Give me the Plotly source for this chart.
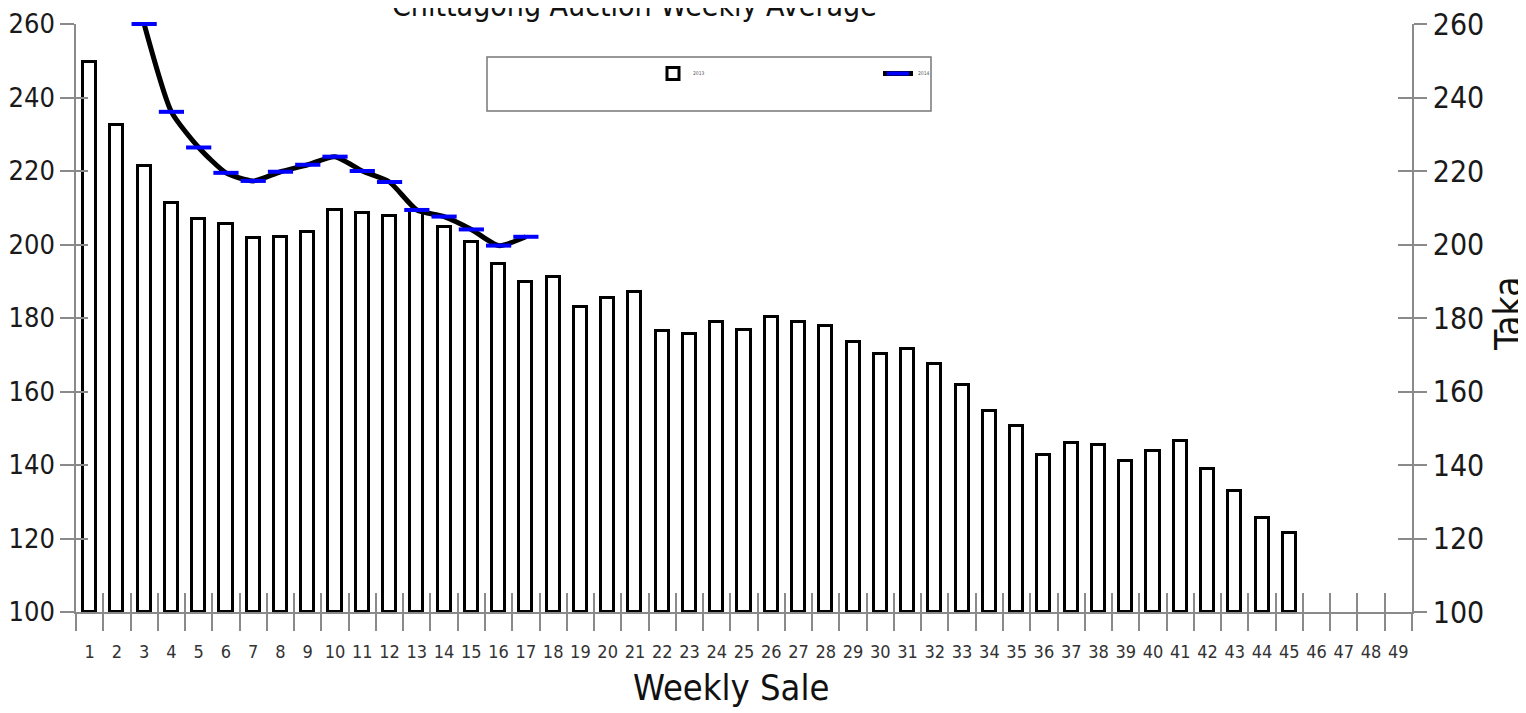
import plotly.graph_objects as go

# ---- data ----
weeks_all = list(range(1, 50))
tick_labels = [str(w) for w in weeks_all]

bar_weeks = list(range(1, 46))
bar_values = [249.7, 232.5, 221.4, 211.3, 206.9, 205.6, 201.8, 202.0, 203.4, 209.5,
              208.6, 207.8, 209.0, 204.8, 200.7, 194.7, 189.8, 191.2, 183.0, 185.4,
              187.1, 176.5, 175.6, 178.9, 176.7, 180.3, 178.9, 177.8, 173.5, 170.2,
              171.6, 167.5, 161.8, 154.7, 150.6, 142.7, 146.0, 145.4, 141.1, 143.8,
              146.5, 138.9, 132.9, 125.6, 121.5]

line_weeks = list(range(3, 18))
line_values = [260.0, 236.1, 226.4, 219.5, 217.3, 219.8, 221.7, 223.9, 220.0, 217.0,
               209.4, 207.6, 204.1, 199.7, 202.1]

y_ticks = [100, 120, 140, 160, 180, 200, 220, 240, 260]
series_names = ["2013", "2014"]

BASE = 100
OFF = 8                      # page body margin
W, H = 1526 - OFF, 713 - OFF
L, T = 76 - OFF, 24 - OFF
PW, PH = 1336, 588
R, B = W - L - PW, H - T - PH
FONT = "DejaVu Sans Condensed, sans-serif"
AX = "#8a8a8a"


def px_x(p):
    return (p - OFF - L) / PW


def px_y(p):
    return (T + PH - (p - OFF)) / PH


fig = go.Figure()
fig.add_trace(go.Bar(
    x=bar_weeks, y=[v - BASE for v in bar_values], base=BASE,
    customdata=bar_values, hovertemplate="%{x}: %{customdata}<extra></extra>",
    width=0.48, marker=dict(color="white", line=dict(color="black", width=3)),
    name=series_names[0], cliponaxis=False,
))
fig.add_trace(go.Scatter(
    x=line_weeks, y=line_values, mode="lines+markers", name=series_names[1],
    line=dict(color="black", width=5, shape="spline", smoothing=0.6),
    marker=dict(symbol="line-ew", size=18, color="blue",
                line=dict(color="blue", width=4)),
    cliponaxis=False,
))

# invisible helper traces so the overlay (tick-only) axes are rendered
for xa, ya in [("x2", "y"), ("x3", "y"), ("x", "y2"), ("x", "y3"), ("x", "y4")]:
    fig.add_trace(go.Scatter(x=line_weeks, y=line_values, xaxis=xa, yaxis=ya,
                             mode="lines", line=dict(width=0), opacity=0,
                             hoverinfo="skip", showlegend=False))

bounds = [w - 0.5 for w in weeks_all] + [weeks_all[-1] + 0.5]
xr = [0.5, 49.5]
yr = [100, 260]

fig.update_layout(
    width=W, height=H,
    margin=dict(l=L, r=R, t=T, b=B, autoexpand=False),
    plot_bgcolor="white", paper_bgcolor="white",
    font=dict(family=FONT, color="#1a1a1a"),
    bargap=0,
    showlegend=True,
    legend=dict(orientation="h", x=px_x(653), y=px_y(59), xanchor="left", yanchor="top",
                font=dict(size=5, color="#555"), entrywidth=180,
                bgcolor="rgba(0,0,0,0)"),
    xaxis=dict(range=xr, tickmode="array", tickvals=weeks_all, ticktext=tick_labels,
               ticks="", ticklabelstandoff=23, showline=True, linecolor=AX, linewidth=1.5,
               tickfont=dict(size=18, color="#333"), showgrid=False, zeroline=False),
    xaxis2=dict(range=xr, overlaying="x", anchor="y", tickmode="array", tickvals=bounds,
                ticks="outside", ticklen=18, tickwidth=1.5, tickcolor=AX,
                showticklabels=False, showgrid=False, zeroline=False, showline=False),
    xaxis3=dict(range=xr, overlaying="x", anchor="y", tickmode="array", tickvals=bounds,
                ticks="inside", ticklen=19, tickwidth=1.5, tickcolor=AX,
                showticklabels=False, showgrid=False, zeroline=False, showline=False),
    yaxis=dict(range=yr, tickmode="array", tickvals=y_ticks, ticks="outside",
               ticklen=14, tickwidth=1.5, tickcolor=AX, showline=True, linecolor=AX,
               linewidth=1.5, tickfont=dict(size=27), ticklabeloverflow="allow",
               ticklabelstandoff=0, showgrid=False, zeroline=False),
    yaxis3=dict(range=yr, overlaying="y", side="left", tickmode="array", tickvals=y_ticks,
                ticks="inside", ticklen=12, tickwidth=1.5, tickcolor=AX,
                showticklabels=False, showgrid=False, zeroline=False, showline=False),
    yaxis2=dict(range=yr, overlaying="y", side="right", tickmode="array", tickvals=y_ticks,
                ticks="outside", ticklen=13, tickwidth=1.5, tickcolor=AX, showline=True,
                linecolor=AX, linewidth=1.5, tickfont=dict(size=30),
                ticklabeloverflow="allow", showgrid=False, zeroline=False),
    yaxis4=dict(range=yr, overlaying="y", side="right", tickmode="array", tickvals=y_ticks,
                ticks="inside", ticklen=14, tickwidth=1.5, tickcolor=AX,
                showticklabels=False, showgrid=False, zeroline=False, showline=False),
    shapes=[dict(type="rect", xref="paper", yref="paper",
                 x0=px_x(487), x1=px_x(931), y0=px_y(111), y1=px_y(57),
                 line=dict(color="#777", width=1.5), fillcolor="rgba(0,0,0,0)",
                 layer="below")],
    annotations=[
        dict(text="Chittagong Auction Weekly Average", xref="paper", yref="paper",
             x=px_x(634), y=1, yanchor="bottom", yshift=-1, showarrow=False,
             font=dict(size=30, color="#111")),
        dict(text="Weekly Sale", xref="paper", yref="paper", x=px_x(731), y=0,
             yanchor="top", yshift=-53, showarrow=False, font=dict(size=36, color="#111")),
        dict(text="Taka", xref="paper", yref="paper", x=px_x(1508), xanchor="center",
             y=px_y(313), yanchor="middle",
             textangle=-90, showarrow=False, font=dict(size=37, color="#111")),
    ],
)

fig.write_html("out.html")
